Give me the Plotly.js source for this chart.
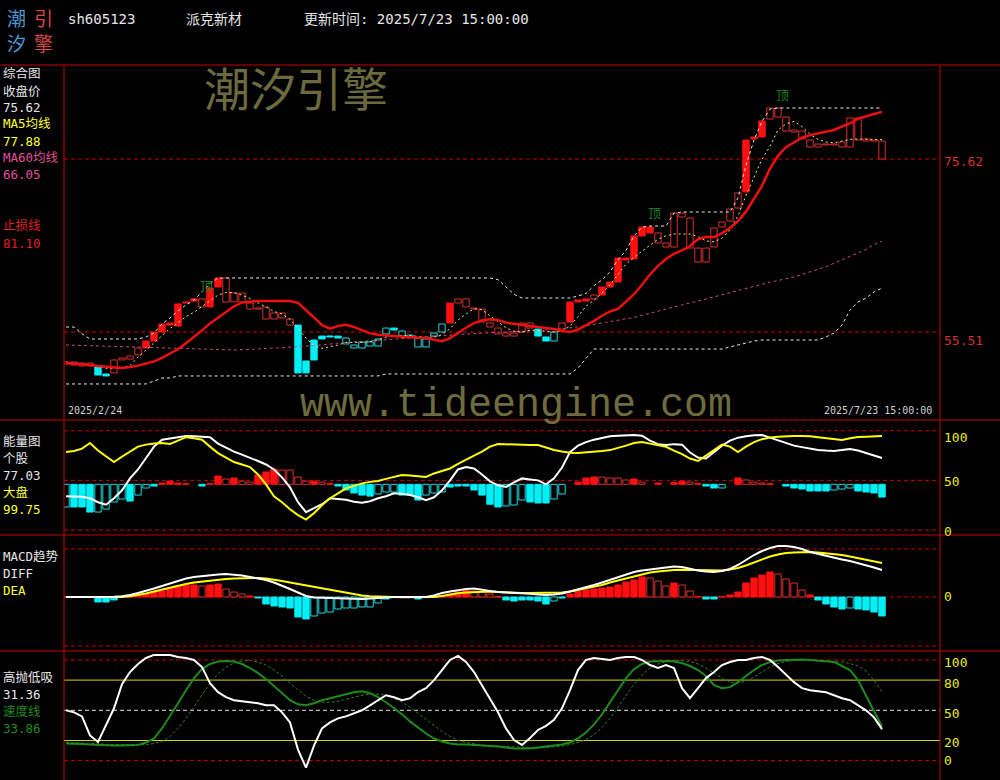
<!DOCTYPE html>
<html><head><meta charset="utf-8">
<script src="https://cdn.plot.ly/plotly-3.0.1.min.js"></script>
<style>html,body{margin:0;padding:0;background:#000;}#chart{width:1000px;height:780px;}</style>
</head><body><div id="chart"></div>
<script>
// ---------- Panel 1 : price ----------
const candleOpen = [
52.02,52.02,51.91,51.91,51.44,50.63,52.26,52.49,52.72,53.65,
53.65,54.46,55.51,56.32,56.20,58.88,59.11,59.36,58.42,60.74,
61.79,60.04,60.04,58.88,58.30,58.42,57.72,57.72,57.02,56.32,
52.14,54.58,55.04,55.04,55.04,54.12,53.65,53.65,53.88,53.88,
55.28,55.97,55.04,54.93,53.77,53.77,55.04,55.51,56.56,59.36,
59.36,58.30,58.18,56.56,55.97,55.39,55.39,56.56,56.56,55.86,
54.93,54.46,56.56,56.67,59.00,59.11,59.81,59.81,60.74,61.32,
63.88,64.00,66.67,67.02,67.02,65.86,69.34,69.34,68.76,65.27,
65.27,67.60,68.29,69.81,71.67,71.79,77.95,78.18,81.55,81.55,
80.50,78.99,78.87,77.83,77.36,77.36,77.36,77.60,80.39,80.39,
77.95,77.83,77.71];
const candleClose = [
51.79,51.67,51.56,51.56,50.51,50.40,50.75,52.26,52.37,52.84,
54.46,55.51,56.44,56.56,58.77,59.00,59.36,58.42,60.63,61.79,
59.00,59.00,59.00,58.18,58.18,57.02,57.02,57.14,56.32,50.75,
50.75,52.26,54.70,54.93,54.81,54.81,54.00,54.35,54.35,54.70,
55.97,55.74,55.63,55.16,54.81,54.70,55.39,56.44,58.88,58.88,
58.42,58.18,56.67,56.09,55.28,55.04,55.04,55.51,55.97,55.04,
54.46,55.51,55.86,59.00,59.23,59.36,59.36,60.74,61.32,64.11,
64.11,66.67,67.71,67.71,65.86,65.39,65.39,68.88,65.27,63.65,
63.65,65.39,67.71,68.41,69.92,77.83,78.18,80.04,80.27,80.50,
78.87,78.76,77.95,77.01,77.01,77.25,77.25,77.01,77.01,77.83,
77.71,77.71,75.62];
// R = solid red, r = hollow red, C = solid cyan, c = hollow cyan
const candleStyle = ("rrrrCCrrrr"+"RRRRRRRrRR"+"rrrrrrrrrC"+"CCCCCccccc"+"cCccccccRr"+
  "rrrrrrrrrC"+"CcrRRRrRRR"+"RRRRrrrrrr"+"rrrrrRRRrr"+"rrrrrrrrrr"+"rrr").split("");
const stopLoss = [
51.91,51.85,51.75,51.68,51.55,51.45,51.35,51.33,51.45,51.6,
51.85,52.1,52.5,53.0,53.5,54.2,54.9,55.7,56.5,57.2,
57.8,58.5,58.95,59.05,59.1,59.12,59.12,59.12,59.1,58.9,
58.1,57.2,56.3,55.9,56.2,56.35,56.1,55.7,55.35,55.2,
55.1,55.0,54.95,54.9,54.85,54.8,54.6,54.45,54.8,55.45,
56.0,56.55,56.85,57.0,56.9,56.6,56.45,56.3,56.2,56.1,
56.0,55.85,55.65,55.5,55.8,56.3,56.8,57.4,57.9,58.2,
59.0,59.9,61.0,62.2,63.2,64.0,64.6,65.0,65.5,66.3,
66.55,66.55,67.0,67.6,68.4,69.5,71.0,72.5,74.5,76.0,
77.0,77.6,78.1,78.4,78.6,78.75,79.0,79.4,79.75,80.3,
80.6,80.85,81.10];
const ma5 = [
52.0,51.9,51.8,51.7,51.5,51.3,51.3,51.4,51.6,52.6,
53.4,54.3,55.1,55.9,56.6,57.3,57.8,58.5,59.2,59.8,
60.1,60.1,59.8,59.4,58.9,58.4,57.9,57.6,57.0,55.9,
54.8,53.9,53.6,53.8,54.0,54.3,54.3,54.3,54.4,54.6,
54.9,55.1,55.1,55.1,55.0,54.9,54.9,55.2,55.9,56.9,
57.6,58.2,58.1,57.4,56.6,56.0,55.6,55.5,55.7,55.7,
55.6,55.5,55.6,56.2,57.3,58.5,59.2,60.0,61.0,62.2,
63.4,64.2,64.9,65.6,66.3,66.7,66.9,66.9,66.9,66.6,
66.1,66.0,66.4,67.4,69.0,71.4,73.6,75.6,77.1,79.0,
79.7,80.0,79.4,78.5,77.9,77.6,77.5,77.7,77.9,77.95,
77.95,77.95,77.88];
const ma60 = [
54.0,53.97,53.94,53.91,53.88,53.85,53.82,53.79,53.76,53.73,
53.7,53.67,53.65,53.62,53.6,53.57,53.54,53.51,53.48,53.45,
53.43,53.42,53.44,53.48,53.53,53.58,53.63,53.68,53.74,53.8,
53.86,53.93,54.0,54.1,54.23,54.3,54.37,54.44,54.51,54.58,
54.65,54.72,54.79,54.85,54.9,54.96,55.02,55.08,55.14,55.2,
55.26,55.32,55.39,55.43,55.47,55.51,55.55,55.59,55.62,55.65,
55.72,55.8,55.88,55.96,56.1,56.24,56.38,56.52,56.7,56.88,
57.05,57.2,57.45,57.7,57.95,58.2,58.45,58.7,58.9,59.1,
59.35,59.6,59.85,60.1,60.3,60.55,60.8,61.05,61.3,61.5,
61.7,61.9,62.2,62.5,62.8,63.1,63.5,63.9,64.3,64.7,
65.1,65.7,66.05];
const upperBand = [
56.09,56.09,55.3,54.7,54.7,54.7,54.7,54.7,54.7,54.7,
54.93,55.39,56.44,57.14,57.95,58.65,59.23,60.16,61.1,61.79,
61.79,61.79,61.79,61.79,61.79,61.79,61.79,61.79,61.79,61.79,
61.79,61.79,61.79,61.79,61.79,61.79,61.79,61.79,61.79,61.79,
61.79,61.79,61.79,61.79,61.79,61.79,61.79,61.79,61.79,61.79,
61.79,61.79,61.79,61.79,61.6,60.8,59.9,59.46,59.46,59.46,
59.46,59.46,59.46,59.46,59.7,60.0,60.9,61.56,62.5,63.9,
65.0,66.67,67.7,67.83,67.83,67.83,69.34,69.46,69.46,69.46,
69.46,69.46,69.46,69.46,71.1,74.9,77.83,80.0,81.43,81.55,
81.55,81.55,81.55,81.55,81.55,81.55,81.55,81.55,81.55,81.55,
81.55,81.55,81.55];
const lowerBand = [
49.47,49.47,49.47,49.47,49.47,49.47,49.47,49.47,49.47,49.47,
49.47,49.8,50.16,50.16,50.40,50.40,50.40,50.40,50.40,50.40,
50.40,50.40,50.40,50.40,50.40,50.40,50.40,50.40,50.40,50.40,
50.40,50.40,50.40,50.40,50.40,50.40,50.40,50.40,50.40,50.40,
50.63,50.63,50.63,50.63,50.63,50.63,50.63,50.63,50.63,50.63,
50.63,50.63,50.63,50.63,50.63,50.63,50.63,50.63,50.63,50.63,
50.63,50.63,50.63,50.63,51.33,52.49,53.53,53.53,53.53,53.53,
53.53,53.53,53.53,53.53,53.53,53.53,53.53,53.53,53.53,53.53,
53.53,53.53,53.53,53.77,54.0,54.23,54.46,54.58,54.58,54.58,
54.58,54.58,54.58,54.58,54.58,54.93,55.39,56.32,58.07,59.0,
59.46,60.16,60.63];
const priceLevels = [75.62, 55.51];
const topIdx = [17.6, 73.6, 89.6];
const topPrice = [60.97, 69.46, 83.17];

// ---------- Panel 2 : energy ----------
const energyBar = [
23.2,23.2,23.2,18.1,18.1,21.1,28.2,31.2,29.2,35.2,
42.3,44.3,47.3,49.3,47.3,46.6,null,44.3,46.6,54.4,
51.4,52.4,49.3,48.3,55.4,58.4,61.4,60.4,60.4,53.4,
49.3,49.3,48.3,46.6,44.3,40.3,37.3,35.2,34.2,36.3,
38.3,38.3,35.2,35.2,30.2,35.2,37.3,38.3,43.3,44.3,
44.3,40.3,35.2,26.0,23.2,24.2,25.2,30.2,28.2,27.2,
27.2,31.2,36.3,null,48.3,52.4,53.4,53.4,52.4,52.4,
50.4,51.4,48.3,null,47.3,null,47.8,49.3,48.3,46.6,
44.3,42.3,42.3,null,52.4,50.4,48.3,47.3,46.6,null,
44.3,42.3,41.3,39.3,39.3,39.3,40.3,41.3,42.3,39.3,
38.3,37.3,33.2];
const energyStyle = ("cCCCccccCc"+"cCRRRRRCRR"+"rRrrRRRrrr"+"rRrRCCCCCc"+"ccCCCcccCC"+
  "CCCCCcccCC"+"CccRRRRrrr"+"rRrRRRRRrR"+"CCcRRrrrRR"+"CCCCCCcccC"+"CCC").split("");
const energyBase = 46;
const stockEnergy = [
34,33.8,33.5,32,28,25.5,32,40,52,61,
73,84,91,92,93.5,94.7,94.5,94,93.5,87,
83,79,76,73,69.5,66,61,53,43,28,
18,22,26,32,31,30.5,28.5,27.5,29,32,
34,37,36.5,35.2,33,30,33,40,50,61,
63.4,62,56,49,45,43.5,48,52,51,50,
46,52,63,78.5,85,88.5,91,93,94.5,95,
95.5,95.7,95,90,86.5,85.6,86.5,86,78,73,
72,79,85,90,93,94.5,95.5,95.7,93,90,
87.5,85,83.5,82,80.6,80,79.6,80.6,81.6,80,
77.5,75,72.5];
const marketEnergy = [
78.5,79.5,82,87.6,80,74,68.5,74,79,84,
86,87.2,87.6,86.6,90,93.5,92.5,91,84,77.5,
73,68.5,66,63.4,56,46,34,28,21,15,
10.5,17,25,32,37,42,44.5,47,48.5,49.3,
51.5,53.5,55.3,55,54,53.4,57,59.5,62,66.5,
71,75,79,84,86.6,86.2,85.8,85.6,85.6,85.6,
83,80.6,79,77.8,77.5,78,78.8,79.5,80.5,82.5,
85,87.6,88.6,87,85.5,83.8,80,76.5,72,69.5,
75,80.6,86,84,78.5,84,88.6,91.5,93.2,94,
94.5,94.7,94.7,94.5,93.5,92.5,91.2,90.6,92.5,93.7,
94,94.3,94.7];
const energyLevels = [0, 50, 100];

// ---------- Panel 3 : MACD ----------
const macdBar = [
0.05,0.05,0.03,-0.05,-0.5,-0.5,-0.3,0.03,0.1,0.2,
0.3,0.5,0.6,0.9,1.1,1.2,1.2,1.1,1.2,1.3,
0.8,0.5,0.3,0.1,-0.1,-0.7,-0.9,-1.0,-1.1,-2.0,
-2.2,-1.9,-1.6,-1.5,-1.2,-1.1,-1.1,-1.0,-1.0,-0.6,
-0.2,-0.05,-0.03,0.03,-0.2,-0.05,0.05,0.1,0.3,0.5,
0.7,0.6,0.5,0.3,0.05,-0.3,-0.4,-0.3,-0.3,-0.4,
-0.7,-0.4,-0.1,0.3,0.6,0.7,0.8,0.9,1.0,1.2,
1.5,1.7,2.0,1.9,1.6,1.1,1.4,1.2,0.6,0.02,
-0.2,-0.2,0.02,0.2,0.5,1.4,1.9,2.2,2.5,2.3,
1.8,1.4,0.7,0.2,-0.3,-0.7,-1.0,-1.2,-1.1,-1.2,
-1.3,-1.5,-1.9];
const macdStyle = ("RRRCCCCRRR"+"RRRRRRRrRR"+"rrrRCCCCCC"+"Cccccccccc"+"CCCRCCRRRR"+
  "RrrrrCCCCC"+"CcCRRRRRRR"+"RRRrrrRrrR"+"CCRRRRRRRr"+"rrrRCCCCcC"+"CCC").split("");
const diff = [
0,0,-0.03,-0.05,-0.05,-0.03,0.02,0.08,0.2,0.4,
0.6,0.85,1.1,1.35,1.65,1.85,2.0,2.1,2.2,2.25,
2.3,2.25,2.15,2.0,1.85,1.7,1.45,1.15,0.8,0.45,
0.1,-0.05,-0.08,-0.1,-0.1,-0.12,-0.18,-0.2,-0.15,-0.08,
-0.02,0,0,0,0,0,0.15,0.4,0.55,0.7,
0.8,0.85,0.7,0.6,0.5,0.47,0.45,0.4,0.33,0.25,
0.2,0.25,0.35,0.55,0.75,0.95,1.2,1.45,1.7,2.0,
2.25,2.5,2.65,2.75,2.8,2.9,3.05,3.0,2.8,2.65,
2.55,2.5,2.6,2.8,3.2,3.7,4.2,4.6,4.9,5.1,
5.1,5.0,4.8,4.5,4.3,4.1,3.95,3.75,3.6,3.4,
3.2,2.95,2.7];
const dea = [
0,0,-0.01,-0.02,-0.02,-0.02,-0.01,0.01,0.08,0.2,
0.35,0.55,0.75,0.95,1.1,1.3,1.45,1.55,1.65,1.75,
1.8,1.85,1.88,1.9,1.9,1.85,1.75,1.6,1.45,1.3,
1.15,1.0,0.85,0.7,0.55,0.4,0.25,0.15,0.08,0.03,
0.01,0,-0.02,-0.03,-0.04,-0.05,0.0,0.1,0.25,0.38,
0.45,0.5,0.55,0.55,0.5,0.45,0.42,0.4,0.4,0.4,
0.4,0.4,0.45,0.55,0.7,0.85,1.0,1.2,1.45,1.65,
1.85,2.05,2.3,2.45,2.55,2.65,2.7,2.72,2.7,2.65,
2.62,2.6,2.65,2.75,2.9,3.15,3.45,3.8,4.05,4.25,
4.4,4.45,4.5,4.5,4.45,4.38,4.3,4.2,4.05,3.9,
3.75,3.6,3.4];
const macdLevels = [4.8, 0, -4.9];

// ---------- Panel 4 : 高抛低吸 ----------
const swingLine = [
50,48,44,25,18.5,35,52,76,88,96,
102,105,105,105,103,102,100,93,77,68,
63,60,59,58,57,55,55,48,38,11,
-7,15,32,38,42,44,47,50,55,60,
65,63,60,62,68,72,80,90,100,104,
98,88,75,62,48,32,20.5,15.6,22.5,30.5,
34.5,40.5,52,70,90,100,102,101,100,102,
103,103,100,95,92,95,92,72,62,72,
82,88,95,98,100,100,102,103,100,93,
85,78,72,70,69,68,65,62,60,55,
50,43,31.36];
const speedLine = [
17,17,16.5,16,15.5,15,15,15,15,15.5,
18,22,32,44,57,70,82,91,96,98.5,
99,98.5,96,92,87,81,74,67,60,56,
55,57,60,62,64,66,68,69,67,63,
58,52,46,39,33,27,22,19,17,16,
16,15.5,15,15,14,13,12,12,12,13,
14,15,16,18,22,28,36,46,58,70,
82,91,96,98.5,99,99,98.5,97,94,90,
84,75,72,73,78,84,90,95,98,99.5,
100,100.5,100.5,100,99.5,99,98,94,90,80,
65,50,33.86];
const speedSignal = [
18,18,17.5,17,16.5,16,16,16,16,16,
16,17,19,24,32,42,54,66,77,86,
93,97,99,99.5,98,95,90,84,77,70,
64,60,58,58,59,61,63,65,66,66,
65,62,58,53,47,41,35,29,24,20,
18,16.5,15.5,15,14.5,14,13.5,13,12.5,12.5,
13,13.5,14.5,16,18,21,26,33,42,53,
65,76,85,92,96,98.5,99.5,99.5,98.5,96,
92,87,82,78,77,79,83,88,93,96.5,
98.5,99.5,100,100,99.5,99,98.5,98,96.5,94,
89,80,68];
const swingRedLevels = [100, 0];
const swingYellowLevels = [80, 20];
const swingWhiteLevels = [50];

// ---------- drawing ----------
const W = 1000, H = 780;
const px = p => p / W;
const py = p => (H - p) / H;
const idx = candleOpen.map((_, i) => i);
const FILL = {R:'#ff1010', r:'#000000', C:'#00f0f8', c:'#000000'};
const EDGE = {R:'#ff1010', r:'#d83030', C:'#00f0f8', c:'#20d8e0'};
const MONO = 'DejaVu Sans Mono, Noto Sans CJK SC, monospace';
const CJK = 'Noto Sans CJK SC, sans-serif';

function boxTrace(lo, hi, styles, xa, ya, minH) {
  return {
    type:'bar', x: idx, xaxis: xa, yaxis: ya, width: 0.8, hoverinfo:'skip',
    base: idx.map(i => (lo[i] == null || hi[i] == null) ? null : Math.min(lo[i], hi[i])),
    y: idx.map(i => (lo[i] == null || hi[i] == null) ? null : Math.max(Math.abs(hi[i] - lo[i]), minH)),
    marker: {color: styles.map(s => FILL[s]), line: {color: styles.map(s => EDGE[s]), width: 1}}
  };
}
function lineTrace(vals, xa, ya, color, width, dash) {
  return {type:'scatter', mode:'lines', x: idx, y: vals, xaxis: xa, yaxis: ya, hoverinfo:'skip',
    line: {color: color, width: width, dash: dash || 'solid', shape:'linear'}};
}

const traces = [
  boxTrace(candleOpen, candleClose, candleStyle, 'x', 'y', 0.12),
  lineTrace(ma60, 'x', 'y', '#c04a86', 1, '3px,3px'),
  lineTrace(upperBand, 'x', 'y', '#e8e8e8', 1, '3px,3px'),
  lineTrace(lowerBand, 'x', 'y', '#e8e8e8', 1, '3px,3px'),
  lineTrace(ma5, 'x', 'y', '#f2f27a', 1, '2px,3px'),
  lineTrace(stopLoss, 'x', 'y', '#ee1010', 2.5),
  boxTrace(energyBar.map(v => v == null ? null : energyBase), energyBar, energyStyle, 'x2', 'y2', 0.4),
  lineTrace(stockEnergy, 'x2', 'y2', '#ffffff', 2),
  lineTrace(marketEnergy, 'x2', 'y2', '#ffff00', 2),
  boxTrace(macdBar.map(() => 0), macdBar, macdStyle, 'x3', 'y3', 0.03),
  lineTrace(dea, 'x3', 'y3', '#ffff00', 2),
  lineTrace(diff, 'x3', 'y3', '#ffffff', 2),
  lineTrace(speedSignal, 'x4', 'y4', '#2f7a2f', 1, '3px,2px'),
  lineTrace(speedLine, 'x4', 'y4', '#1e8a1e', 2),
  lineTrace(swingLine, 'x4', 'y4', '#ffffff', 2)
];

const shapes = [];
const RED = '#c80000';
function hline(yv, yref, color, dash) {
  shapes.push({type:'line', xref:'paper', yref: yref, x0: px(64), x1: px(940), y0: yv, y1: yv,
    line: {color: color, width: 1, dash: dash}, layer:'below'});
}
priceLevels.forEach(v => hline(v, 'y', RED, '4px,3px'));
energyLevels.forEach(v => hline(v, 'y2', RED, '4px,3px'));
macdLevels.forEach(v => hline(v, 'y3', RED, '4px,3px'));
swingRedLevels.forEach(v => hline(v, 'y4', RED, '4px,3px'));
swingYellowLevels.forEach(v => hline(v, 'y4', '#d8d800', 'solid'));
swingWhiteLevels.forEach(v => hline(v, 'y4', '#e0e0e0', '4px,3px'));
[65, 420, 535, 651].forEach(p => shapes.push({type:'line', xref:'paper', yref:'paper',
  x0: 0, x1: 1, y0: py(p), y1: py(p), line: {color: RED, width: 1}}));
[64, 940].forEach(p => shapes.push({type:'line', xref:'paper', yref:'paper',
  x0: px(p), x1: px(p), y0: py(65), y1: 0, line: {color: RED, width: 1}}));

const ann = [];
function txt(x, y, text, color, size, family, xanchor, extra) {
  ann.push(Object.assign({xref:'paper', yref:'paper', x: px(x), y: py(y), text: text, showarrow: false,
    xanchor: xanchor || 'left', yanchor: 'middle', borderpad: 0,
    font: {color: color, size: size, family: family || MONO}}, extra || {}));
}
// logo (one text per column) + header
txt(6, 30, '潮<br>汐', '#4c96d2', 19, CJK, 'left', {align:'left'});
txt(33, 30, '引<br>擎', '#d84848', 19, CJK, 'left', {align:'left'});
txt(67, 19, 'sh605123', '#e6e6e6', 14);
txt(185, 19, '派克新材', '#e6e6e6', 14);
txt(303, 19, '更新时间: 2025/7/23 15:00:00', '#e6e6e6', 14);
// watermarks
txt(296, 86, '潮汐引擎', '#6b6a3e', 46, CJK, 'center');
txt(516, 406, 'www.tideengine.com', '#6e6c3e', 40, 'Liberation Mono, monospace', 'center');
// left labels
const LS = 12.5;
txt(2, 73, '综合图', '#e6e6e6', LS);
txt(2, 91, '收盘价', '#e6e6e6', LS);
txt(2, 108, '75.62', '#e6e6e6', LS);
txt(2, 124, 'MA5均线', '#ffff30', LS);
txt(2, 141, '77.88', '#ffff30', LS);
txt(2, 158, 'MA60均线', '#e0509a', LS);
txt(2, 175, '66.05', '#e0509a', LS);
txt(2, 226, '止损线', '#e02020', LS);
txt(2, 243, '81.10', '#e02020', LS);
txt(2, 441, '能量图', '#e6e6e6', LS);
txt(2, 458, '个股', '#e6e6e6', LS);
txt(2, 475, '77.03', '#e6e6e6', LS);
txt(2, 492, '大盘', '#ffff30', LS);
txt(2, 509, '99.75', '#ffff30', LS);
txt(2, 556, 'MACD趋势', '#e6e6e6', LS);
txt(2, 573, 'DIFF', '#e6e6e6', LS);
txt(2, 590, 'DEA', '#ffff30', LS);
txt(2, 677, '高抛低吸', '#e6e6e6', LS);
txt(2, 694, '31.36', '#e6e6e6', LS);
txt(2, 711, '速度线', '#1e8c1e', LS);
txt(2, 728, '33.86', '#1e8c1e', LS);
// right labels
txt(943, 161, '75.62', '#d03030', 13);
txt(943, 340, '55.51', '#d03030', 13);
[['100',437],['50',481],['0',531],['0',596],['100',662],['80',683],['50',713],['20',742],['0',760]]
  .forEach(a => txt(943, a[1], a[0], '#e8e820', 13));
// dates
txt(67, 410, '2025/2/24', '#cfcfcf', 10);
txt(933, 410, '2025/7/23 15:00:00', '#cfcfcf', 10, MONO, 'right');
// top marks
topIdx.forEach((xv, k) => ann.push({xref:'x', yref:'y', x: xv, y: topPrice[k], text:'顶', showarrow:false,
  font:{color:'#1c7a1c', size:13, family: CJK}}));

const xBase = {domain:[px(64), px(940)], range:[-0.25, 109.25], visible:false, fixedrange:true};
const layout = {
  width: W, height: H, margin:{l:0, r:0, t:0, b:0},
  paper_bgcolor:'#000', plot_bgcolor:'#000', showlegend:false, barmode:'overlay',
  xaxis: Object.assign({anchor:'y'}, xBase),
  xaxis2: Object.assign({anchor:'y2'}, xBase),
  xaxis3: Object.assign({anchor:'y3'}, xBase),
  xaxis4: Object.assign({anchor:'y4'}, xBase),
  yaxis: {domain:[py(420), py(65)], range:[45.28, 86.55], visible:false, fixedrange:true},
  yaxis2: {domain:[py(535), py(420)], range:[-5.0, 110.8], visible:false, fixedrange:true},
  yaxis3: {domain:[py(651), py(535)], range:[-5.4, 6.2], visible:false, fixedrange:true},
  yaxis4: {domain:[0, py(651)], range:[-19.2, 108.9], visible:false, fixedrange:true},
  shapes: shapes, annotations: ann
};
Plotly.newPlot('chart', traces, layout, {staticPlot:true, displayModeBar:false});
</script></body></html>
